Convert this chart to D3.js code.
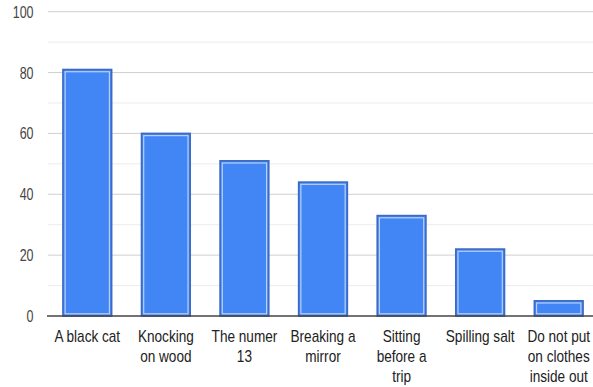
<!DOCTYPE html>
<html>
<head>
<meta charset="utf-8">
<script src="https://cdn.jsdelivr.net/npm/d3@7"></script>
<style>
  html, body { margin: 0; padding: 0; background: #fff; }
  svg { display: block; }
  text { font-family: "Liberation Sans", Arial, sans-serif; }
</style>
</head>
<body>
<svg id="chart" width="593" height="387"></svg>
<script>
// Superstitions: share of people who believe in each one (%)
const categories = [
  "A black cat",
  "Knocking\non wood",
  "The numer\n13",
  "Breaking a\nmirror",
  "Sitting\nbefore a\ntrip",
  "Spilling salt",
  "Do not put\non clothes\ninside out"
];
const values = [81, 60, 51, 44, 33, 22, 5];
const yTicks = [0, 20, 40, 60, 80, 100];
const yMinorTicks = [10, 30, 50, 70, 90];

const svg = d3.select("#chart");
const plot = { left: 48, right: 598, top: 11.7, bottom: 316 };
const tickScaleX = 0.78;
const labelScaleX = 0.85;

const x = d3.scaleBand()
  .domain(categories)
  .range([plot.left, plot.right])
  .paddingInner(0.38)
  .paddingOuter(0.19);

const y = d3.scaleLinear()
  .domain([0, 100])
  .range([plot.bottom, plot.top]);

// minor gridlines
svg.append("g").selectAll("line")
  .data(yMinorTicks)
  .join("line")
  .attr("x1", plot.left).attr("x2", 593)
  .attr("y1", d => y(d)).attr("y2", d => y(d))
  .attr("stroke", "#ececec").attr("stroke-width", 1);

// major gridlines
svg.append("g").selectAll("line")
  .data(yTicks.filter(d => d !== 0))
  .join("line")
  .attr("x1", plot.left).attr("x2", 593)
  .attr("y1", d => y(d)).attr("y2", d => y(d))
  .attr("stroke", "#cfcfcf").attr("stroke-width", 1);

// y tick labels
svg.append("g").selectAll("text")
  .data(yTicks)
  .join("text")
  .attr("transform", d => `translate(33.5,${y(d) + 6}) scale(${tickScaleX},1)`)
  .attr("text-anchor", "end")
  .attr("font-size", 16)
  .attr("fill", "#444")
  .text(d => d);

// bars: dark outline, blue fill, light inner edge
const bars = svg.append("g").selectAll("g")
  .data(values.map((v, i) => ({ c: categories[i], v })))
  .join("g");

bars.append("rect")
  .attr("x", d => x(d.c))
  .attr("y", d => y(d.v))
  .attr("width", x.bandwidth())
  .attr("height", d => y(0) - y(d.v))
  .attr("fill", "#4285f4")
  .attr("stroke", "#3b6bc4")
  .attr("stroke-width", 1.6);

bars.append("rect")
  .attr("x", d => x(d.c) + 2.2)
  .attr("y", d => y(d.v) + 2.2)
  .attr("width", x.bandwidth() - 4.4)
  .attr("height", d => Math.max(0, y(0) - y(d.v) - 4.4))
  .attr("fill", "none")
  .attr("stroke", "#b9d1f8")
  .attr("stroke-width", 1.2);

// baseline
svg.append("line")
  .attr("x1", plot.left - 1).attr("x2", 593)
  .attr("y1", y(0)).attr("y2", y(0))
  .attr("stroke", "#444").attr("stroke-width", 1.3);

// category labels
const xLabels = svg.append("g").selectAll("text")
  .data(categories)
  .join("text")
  .attr("transform", d => `translate(${x(d) + x.bandwidth() / 2},341.5) scale(${labelScaleX},1)`)
  .attr("text-anchor", "middle")
  .attr("font-size", 16)
  .attr("fill", "#222");

xLabels.selectAll("tspan")
  .data(d => d.split("\n"))
  .join("tspan")
  .attr("x", 0)
  .attr("y", (d, i) => i * 20.3)
  .text(d => d);
</script>
</body>
</html>
